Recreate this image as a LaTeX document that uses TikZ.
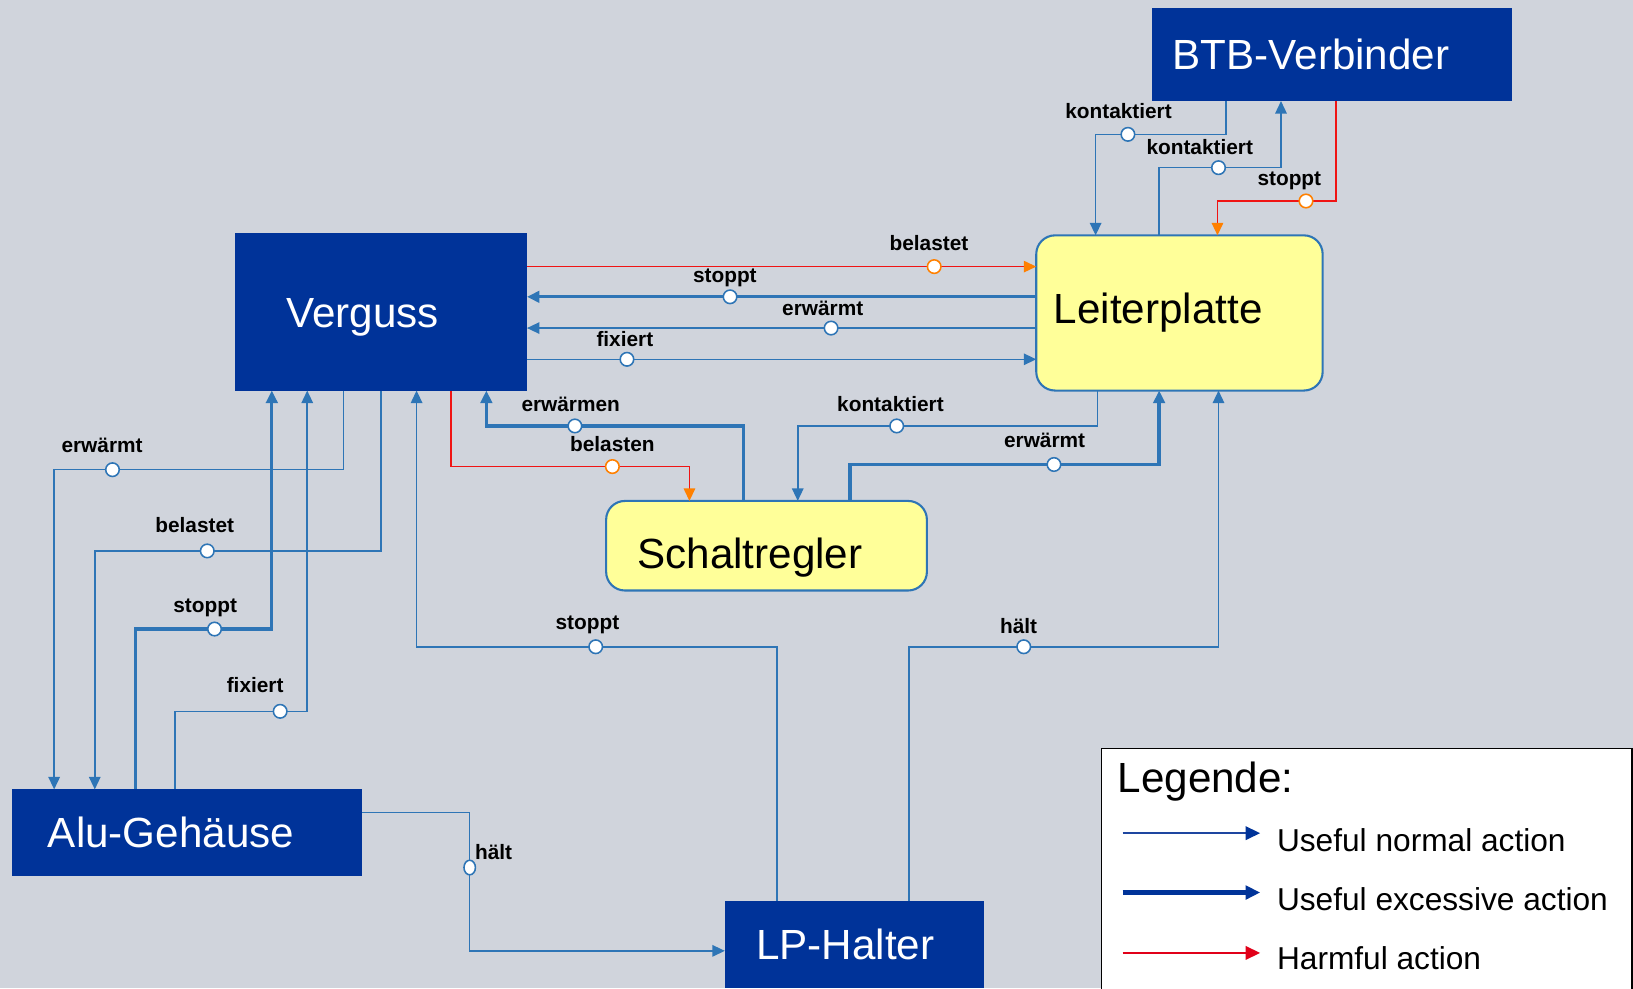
\documentclass[tikz,border=0pt]{standalone}
\usepackage{fontspec}
\setmainfont{Liberation Sans}
\usetikzlibrary{arrows.meta,shapes.geometric}
\definecolor{bgc}{RGB}{208,212,220}
\definecolor{dkblue}{RGB}{0,51,153}
\definecolor{cblue}{RGB}{46,117,182}
\definecolor{yfill}{RGB}{255,255,153}
\definecolor{hred}{RGB}{240,20,20}
\definecolor{orng}{RGB}{255,128,0}
\definecolor{legred}{RGB}{225,0,25}
\definecolor{legblue}{RGB}{30,70,160}
\newcommand\bigtxt{\fontsize{40.5}{48}\selectfont}
\newcommand\labtxt{\fontsize{20}{24}\selectfont\bfseries}
\newcommand\legtxt{\fontsize{30.4}{36}\selectfont}
\begin{document}
\begin{tikzpicture}[x=1pt,y=-1pt,
  tipb/.style={-{Triangle[length=12pt,width=11pt]}},
  un/.style={draw=cblue,line width=1.5pt,tipb},
  ue/.style={draw=cblue,line width=3.2pt,tipb},
  harm/.style={draw=hred,line width=1.5pt,-{Triangle[length=12pt,width=11pt,color=orng]}},
  comp/.style={rectangle,fill=dkblue,text=white,font=\bigtxt,align=left,inner ysep=0pt,text height=29pt,text depth=0pt,outer sep=0pt},
  ycomp/.style={rectangle,rounded corners=18pt,fill=yfill,draw=cblue,line width=2pt,text=black,font=\bigtxt,align=left,inner ysep=0pt,outer sep=0pt},
  dot/.style={circle,fill=white,draw=cblue,line width=1.5pt,minimum size=13pt,inner sep=0pt},
  hdot/.style={dot,draw=orng},
  lab/.style={font=\labtxt,text height=14.3pt,text depth=0pt,inner sep=0pt},
  legt/.style={font=\legtxt,text height=21.8pt,text depth=0pt,inner sep=0pt,anchor=west}
]
\useasboundingbox (0,0) rectangle (1568,949);
\clip (0,0) rectangle (1568,949);
\fill[bgc] (0,0) rectangle (1568,949);

% components
\node[comp,minimum height=151pt,inner xsep=49pt,text width=182pt] (V) at (366,299.5) {Verguss};
\node[comp,minimum height=89pt,inner xsep=20pt,text width=306pt] (BTB) at (1279,52.5) {BTB-Verbinder};
\node[ycomp,minimum height=149pt,inner xsep=17pt,text width=241pt,text height=29pt,text depth=9pt] (LP) at (1132.5,300.5) {Leiterplatte};
\node[ycomp,minimum height=86pt,inner xsep=30pt,text width=248pt,text height=43pt,text depth=0pt] (SR) at (736,524) {Schaltregler};
\node[comp,minimum height=83pt,inner xsep=34pt,text width=268pt] (A) at (180,799.5) {Alu-Gehäuse};
\node[comp,minimum height=84pt,inner xsep=30pt,text width=189pt] (LPH) at (820.5,907) {LP-Halter};

% Verguss <-> Leiterplatte
\draw[harm] (V.east |- 0,256) -- (LP.west |- 0,256);
\draw[ue] (LP.west |- 0,285) -- (V.east |- 0,285);
\draw[un] (LP.west |- 0,315) -- (V.east |- 0,315);
\draw[un] (V.east |- 0,345) -- (LP.west |- 0,345);
% BTB <-> LP
\draw[un] (1177,0 |- BTB.south) |- (1052,129) -- (1052,0 |- LP.north);
\draw[un] (1113,0 |- LP.north) |- (1230,161) -- (1230,0 |- BTB.south);
\draw[harm] (1283,0 |- BTB.south) |- (1169,193) -- (1169,0 |- LP.north);
% Verguss <-> Schaltregler
\draw[ue] (714,0 |- SR.north) |- (467,409) -- (467,0 |- V.south);
\draw[harm] (433,0 |- V.south) |- (662,448) -- (662,0 |- SR.north);
% LP <-> Schaltregler
\draw[un] (1054,0 |- LP.south) |- (766,409) -- (766,0 |- SR.north);
\draw[ue] (816,0 |- SR.north) |- (1113,446) -- (1113,0 |- LP.south);
% Verguss <-> Alu
\draw[un] (330,0 |- V.south) |- (52,451) -- (52,0 |- A.north);
\draw[un] (366,0 |- V.south) |- (91,529) -- (91,0 |- A.north);
\draw[ue] (130,0 |- A.north) |- (261,604) -- (261,0 |- V.south);
\draw[un] (168,0 |- A.north) |- (295,683) -- (295,0 |- V.south);
% LP-Halter
\draw[un] (746,0 |- LPH.north) |- (400,621) -- (400,0 |- V.south);
\draw[un] (873,0 |- LPH.north) |- (1170,621) -- (1170,0 |- LP.south);
\draw[un] (A.east |- 0,780) -| (451,913) -- (LPH.west |- 0,913);

% dots
\node[hdot] (d1) at (897,256) {};
\node[dot] (d2) at (701,285) {};
\node[dot] (d3) at (798,315) {};
\node[dot] (d4) at (602,345) {};
\node[dot] (d5) at (1083,129) {};
\node[dot] (d6) at (1170,161) {};
\node[hdot] (d7) at (1254,193) {};
\node[dot] (d8) at (552,409) {};
\node[hdot] (d9) at (588,448) {};
\node[dot] (d10) at (861,409) {};
\node[dot] (d11) at (1012,446) {};
\node[dot] (d12) at (108,451) {};
\node[dot] (d13) at (199,529) {};
\node[dot] (d14) at (206,604) {};
\node[dot] (d15) at (269,683) {};
\node[dot] (d16) at (572,621) {};
\node[dot] (d17) at (983,621) {};
\node[dot,minimum size=0pt,minimum width=11pt,minimum height=14pt,ellipse] (d18) at (451,833) {};

% labels
\node[lab] (t1) at (892,233) {belastet};
\node[lab] (t2) at (696,264) {stoppt};
\node[lab] (t3) at (790,296) {erwärmt};
\node[lab] (t4) at (600,326) {fixiert};
\node[lab] (t5) at (1074,107) {kontaktiert};
\node[lab] (t6) at (1152,141) {kontaktiert};
\node[lab] (t7) at (1238,171) {stoppt};
\node[lab] (t8) at (548,388) {erwärmen};
\node[lab] (t9) at (588,426) {belasten};
\node[lab] (t10) at (855,388) {kontaktiert};
\node[lab] (t11) at (1003,423) {erwärmt};
\node[lab] (t12) at (98,427) {erwärmt};
\node[lab] (t13) at (187,504) {belastet};
\node[lab] (t14) at (197,581) {stoppt};
\node[lab] (t15) at (245,658) {fixiert};
\node[lab] (t16) at (564,597) {stoppt};
\node[lab] (t17) at (978,601) {hält};
\node[lab] (t18) at (474,818) {hält};

% legend
\node[draw=black,fill=white,line width=1.5pt,minimum width=509pt,minimum height=260pt,anchor=north west,inner sep=0pt] (leg) at (1057,718) {};
\node[font=\bigtxt,text height=29pt,text depth=0pt,inner sep=0pt,anchor=west] (legh) at (1073,746) {Legende:};
\coordinate (la1) at (1078,800); \coordinate (lb1) at (1210,800);
\coordinate (la2) at (1078,857); \coordinate (lb2) at (1210,857);
\coordinate (la3) at (1078,915); \coordinate (lb3) at (1210,915);
\draw[draw=legblue,line width=1.8pt,-{Triangle[length=14pt,width=13pt,color=dkblue]}] (la1) -- (lb1);
\draw[draw=dkblue,line width=4.5pt,-{Triangle[length=14pt,width=13pt,color=dkblue]}] (la2) -- (lb2);
\draw[draw=legred,line width=1.8pt,-{Triangle[length=14pt,width=13pt,color=legred]}] (la3) -- (lb3);
\node[legt] (lt1) at (1226,807) {Useful normal action};
\node[legt] (lt2) at (1226,863) {Useful excessive action};
\node[legt] (lt3) at (1226,920) {Harmful action};
\end{tikzpicture}
\end{document}
